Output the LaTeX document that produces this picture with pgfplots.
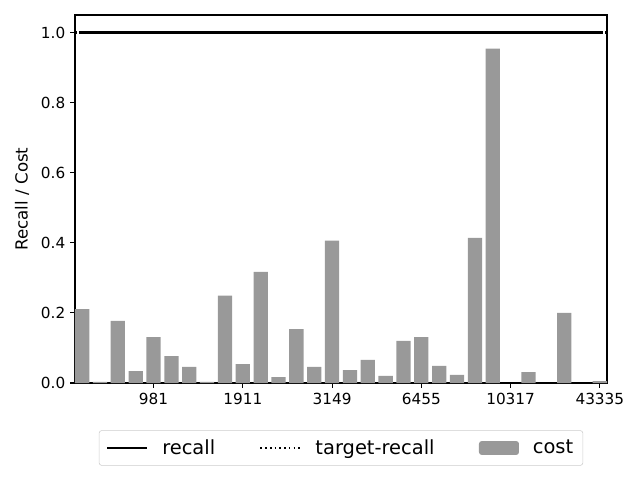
\documentclass[border=0pt]{standalone}
\usepackage{pgfplots}
\pgfplotsset{compat=1.18}
\usepackage{fontspec}
\setmainfont{DejaVu Sans}
\definecolor{bargray}{RGB}{153,153,153}
\begin{document}
\begin{tikzpicture}
\path[use as bounding box] (-54pt,-69.84pt) rectangle (406.8pt,275.76pt);
\begin{axis}[
  scale only axis,
  width=383.04pt, height=264.96pt,
  xmin=-0.4, xmax=29.4,
  ymin=0, ymax=1.05,
  xtick={4,9,14,19,24,29},
  xticklabels={981,1911,3149,6455,10317,43335},
  ytick={0,0.2,0.4,0.6,0.8,1.0},
  yticklabel style={/pgf/number format/.cd, fixed, fixed zerofill, precision=1},
  /pgf/number format/assume math mode=true,
  tick label style={font=\fontsize{11}{13}\selectfont},
  tick pos=left,
  tick align=outside,
  major tick length=3.5pt,
  tick style={line width=0.8pt, black},
  axis line style={line width=0.8pt},
  ylabel={Recall / Cost},
  every axis y label/.style={at={(axis description cs:-0.0996,0.5)}, rotate=90, anchor=center, font=\fontsize{12}{14}\selectfont},
  legend columns=3,
  legend style={at={(0.5,-0.1766)}, anchor=center, draw=black!20, rounded corners=2pt,
    font=\fontsize{14}{16}\selectfont, inner xsep=5pt, inner ysep=4.5pt,
    /tikz/every odd column/.append style={column sep=8pt},
    /tikz/every even column/.append style={column sep=30pt}},
  legend cell align=left,
]
\addplot[black, line width=1.5pt,
  legend image code/.code={\draw[black, line width=1.5pt] (0pt,0pt) -- (29pt,0pt);}]
  coordinates {(-0.15,1) (29.15,1)};
\addlegendentry{recall}
\addplot[black, line width=1.5pt, dash pattern=on 1.5pt off 2.475pt,
  legend image code/.code={\draw[black, line width=1.2pt, dash pattern=on 1.2pt off 2.2pt] (0pt,0pt) -- (29pt,0pt);}]
  coordinates {(-0.4,1) (29.4,1)};
\addlegendentry{target-recall}
\addplot[ybar, bar width=0.8, fill=bargray, draw=none,
  legend image code/.code={\fill[bargray] (0pt,-5pt) rectangle (28.8pt,5pt);}]
  coordinates {
  (0,0.211) (1,0.003) (2,0.177) (3,0.034) (4,0.131) (5,0.077) (6,0.046) (7,0.003)
  (8,0.249) (9,0.054) (10,0.317) (11,0.017) (12,0.154) (13,0.046) (14,0.406)
  (15,0.037) (16,0.066) (17,0.020) (18,0.120) (19,0.131) (20,0.049) (21,0.023)
  (22,0.414) (23,0.954) (25,0.031) (27,0.200) (29,0.005)
  };
\addlegendentry{cost}
\end{axis}
\end{tikzpicture}
\end{document}
